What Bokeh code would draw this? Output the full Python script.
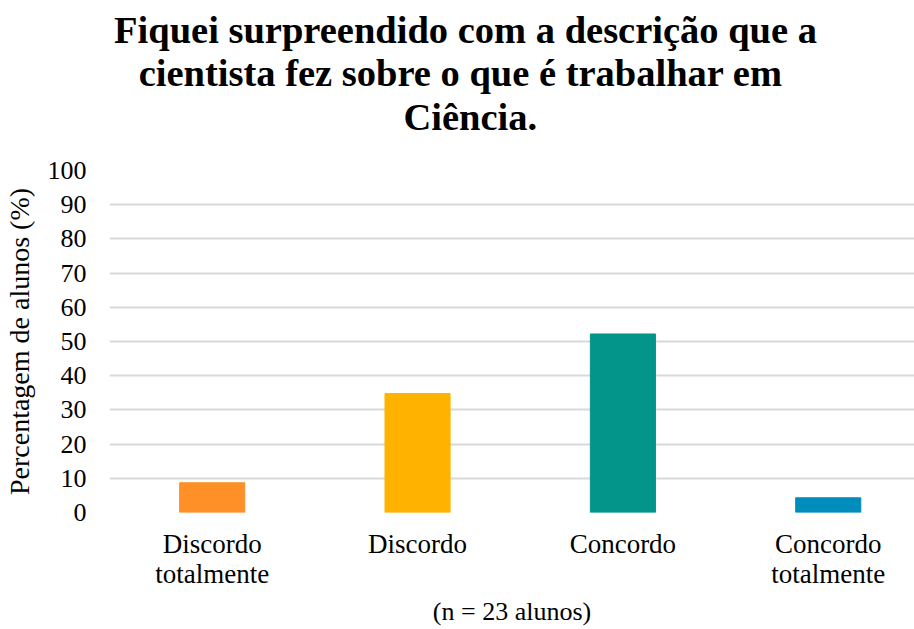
from bokeh.plotting import figure
from bokeh.layouts import column
from bokeh.models import Range1d, FixedTicker, ColumnDataSource
from bokeh.core.properties import value
from bokeh.embed import file_html
from bokeh.resources import INLINE

categories = ["Discordo\ntotalmente", "Discordo", "Concordo", "Concordo\ntotalmente"]
percentages = [8.7, 34.8, 52.2, 4.3]
colors = ["#FF8F26", "#FFB300", "#03948A", "#008DBB"]
y_ticks = [0, 10, 20, 30, 40, 50, 60, 70, 80, 90, 100]
title_text = "Fiquei surpreendido  com a descrição que a\ncientista  fez sobre o que é trabalhar  em\nCiência."
x_label = "(n = 23 alunos)"
y_label = "Percentagem de alunos (%)"

FONT = "Liberation Serif"
W = 914
TITLE_H = 140
MAIN_H = 629 - TITLE_H

x_range = Range1d(0, 3.92)

# ---- title panel (shares x range, so frames align) ----
t = figure(width=W, height=TITLE_H, output_backend="svg", toolbar_location=None,
           x_range=x_range, y_range=Range1d(0, TITLE_H),
           min_border=0, min_border_left=104)
t.axis.visible = False
t.grid.visible = False
t.outline_line_color = None
t.text(x=[1.757], y=[TITLE_H - 73], text=[title_text], text_font=value(FONT),
       text_font_style="bold", text_font_size="38.5px", text_align="center",
       text_baseline="middle", text_line_height=1.03, text_color="#000000")

# ---- main chart ----
xs = [i + 0.5 for i in range(len(categories))]
src = ColumnDataSource(dict(x=xs, top=percentages, color=colors))

p = figure(width=W, height=MAIN_H, output_backend="svg", toolbar_location=None,
           x_range=x_range, y_range=Range1d(0, 100),
           min_border_left=104, min_border_right=0, min_border_top=30, min_border_bottom=110)
p.outline_line_color = None

p.vbar(x="x", top="top", width=0.317, color="color", source=src)

p.xaxis.ticker = FixedTicker(ticks=xs)
p.xaxis.major_label_overrides = {x: c for x, c in zip(xs, categories)}
p.yaxis.ticker = FixedTicker(ticks=y_ticks)
for ax in (p.xaxis, p.yaxis):
    ax.axis_line_color = None
    ax.major_tick_line_color = None
    ax.minor_tick_line_color = None
    ax.major_label_text_font = FONT
    ax.major_label_text_font_size = "26px"
    ax.major_label_text_color = "#000000"
    ax.axis_label_text_font = FONT
    ax.axis_label_text_font_size = "26px"
    ax.axis_label_text_font_style = "normal"
    ax.axis_label_text_color = "#000000"
p.xaxis.major_label_text_font_size = "27px"
p.xaxis.major_label_standoff = 10
p.xaxis.major_label_text_line_height = 1.03
p.xaxis.axis_label = x_label
p.xaxis.axis_label_standoff = 5
p.yaxis.major_label_standoff = 17
p.yaxis.axis_label = y_label
p.yaxis.axis_label_text_font_size = "28px"
p.yaxis.axis_label_standoff = 10

p.xgrid.grid_line_color = None
p.ygrid.ticker = FixedTicker(ticks=y_ticks)
p.ygrid.grid_line_color = "#D9D9D9"
p.ygrid.grid_line_width = 2

layout = column(t, p, spacing=0)
open("out.html", "w").write(file_html(layout, INLINE))
